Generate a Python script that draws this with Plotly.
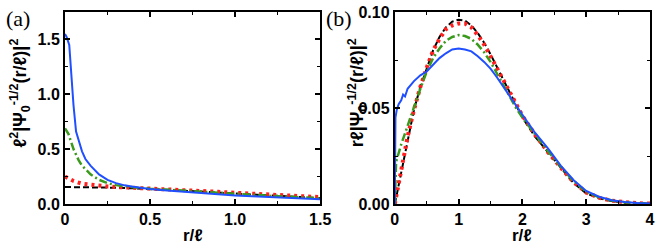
import plotly.graph_objects as go

# ---------------- Panel (a) data ----------------
ra_blue = [0, 0.01, 0.025, 0.035, 0.05, 0.065, 0.08, 0.1, 0.12, 0.15, 0.2, 0.25, 0.3, 0.35, 0.4,
           0.5, 0.6, 0.7, 0.8, 0.9, 1.0, 1.1, 1.2, 1.3, 1.4, 1.5]
a_blue = [1.55, 1.52, 1.45, 1.2, 0.9, 0.66, 0.58, 0.48, 0.41, 0.35, 0.27, 0.22, 0.19, 0.17, 0.158,
          0.136, 0.122, 0.11, 0.099, 0.088, 0.078, 0.07, 0.062, 0.055, 0.048, 0.043]

ra_green = [0, 0.02, 0.05, 0.08, 0.1, 0.15, 0.2, 0.25, 0.3, 0.35, 0.4, 0.5, 0.6, 0.7, 0.8, 0.9,
            1.0, 1.1, 1.2, 1.3, 1.4, 1.5]
a_green = [0.69, 0.64, 0.50, 0.40, 0.35, 0.27, 0.22, 0.19, 0.172, 0.162, 0.153, 0.140, 0.130, 0.120,
           0.110, 0.100, 0.091, 0.083, 0.075, 0.067, 0.060, 0.053]

ra_red = [0, 0.05, 0.1, 0.15, 0.2, 0.25, 0.3, 0.4, 0.5, 0.6, 0.7, 0.8, 0.9, 1.0, 1.1, 1.2, 1.3, 1.4, 1.5]
a_red = [0.25, 0.21, 0.185, 0.174, 0.166, 0.16, 0.155, 0.149, 0.143, 0.136, 0.128, 0.12, 0.111, 0.102,
         0.094, 0.086, 0.078, 0.070, 0.063]

ra_black = [0, 0.1, 0.2, 0.3, 0.4, 0.5, 0.6, 0.7, 0.8, 0.9, 1.0, 1.1, 1.2, 1.3, 1.4, 1.5]
a_black = [0.155, 0.154, 0.152, 0.148, 0.143, 0.137, 0.130, 0.122, 0.113, 0.104, 0.095, 0.086,
           0.077, 0.069, 0.061, 0.053]

# ---------------- Panel (b) data ----------------
rb_blue = [0, 0.005, 0.01, 0.03, 0.06, 0.1, 0.13, 0.16, 0.2,
           0.3, 0.4, 0.5, 0.6, 0.7, 0.8, 0.9, 1.0,
           1.1, 1.2, 1.3, 1.4, 1.5, 1.6, 1.7, 1.8, 1.9, 2.0,
           2.2, 2.4, 2.6, 2.8, 3.0, 3.2, 3.4, 3.6, 3.8, 4.0]
b_blue = [0, 0.035, 0.045, 0.049, 0.052, 0.054, 0.057, 0.056, 0.060,
          0.064, 0.067, 0.069, 0.0725, 0.076, 0.0785, 0.0805, 0.081,
          0.0805, 0.0795, 0.077, 0.074, 0.0705, 0.066, 0.061, 0.0565, 0.0515, 0.0465,
          0.037, 0.029, 0.020, 0.0125, 0.0068, 0.0038, 0.002, 0.001, 0.0005, 0.0002]

rb_green = [0, 0.02, 0.1, 0.2, 0.3, 0.4, 0.5, 0.6, 0.7, 0.8, 0.9, 1.0, 1.1, 1.2, 1.3, 1.4, 1.5,
            1.6, 1.7, 1.8, 1.9, 2.0, 2.2, 2.4, 2.6, 2.8, 3.0, 3.2, 3.4, 3.6, 3.8, 4.0]
b_green = [0, 0.022, 0.031, 0.041, 0.051, 0.060, 0.069, 0.076, 0.081, 0.085, 0.087, 0.088, 0.0875,
           0.086, 0.083, 0.079, 0.074, 0.068, 0.062, 0.056, 0.050, 0.045,
           0.036, 0.0275, 0.0195, 0.012, 0.0063, 0.0035, 0.0018, 0.0009, 0.0004, 0.0002]

rb_black = [0, 0.1, 0.2, 0.3, 0.4, 0.5, 0.6, 0.7, 0.8, 0.9, 1.0, 1.1, 1.2, 1.3, 1.4, 1.5,
            1.6, 1.7, 1.8, 1.9, 2.0, 2.2, 2.4, 2.6, 2.8, 3.0, 3.2, 3.4, 3.6, 3.8, 4.0]
b_black = [0, 0.017, 0.034, 0.049, 0.061, 0.071, 0.080, 0.087, 0.092, 0.095, 0.096, 0.0955, 0.093,
           0.089, 0.084, 0.078, 0.0715, 0.065, 0.058, 0.0515, 0.045,
           0.035, 0.027, 0.0185, 0.011, 0.0055, 0.003, 0.0015, 0.0007, 0.0003, 0.0001]

rb_red = rb_black
b_red = [0, 0.018, 0.035, 0.049, 0.061, 0.071, 0.080, 0.086, 0.091, 0.093, 0.094, 0.094, 0.092,
         0.088, 0.083, 0.077, 0.071, 0.065, 0.058, 0.052, 0.046,
         0.036, 0.027, 0.019, 0.0115, 0.006, 0.0033, 0.0017, 0.0008, 0.0004, 0.0002]

xa_ticks = [0, 0.5, 1.0, 1.5]
xa_text = ["0", "0.5", "1.0", "1.5"]
ya_ticks = [0, 0.5, 1.0, 1.5]
ya_text = ["0.0", "0.5", "1.0", "1.5"]
xb_ticks = [0, 1, 2, 3, 4]
xb_text = ["0", "1", "2", "3", "4"]
yb_ticks = [0, 0.05, 0.10]
yb_text = ["0.00", "0.05", "0.10"]

BLUE = "#1f4fff"
GREEN = "#3a9a1c"
RED = "#ff1f1f"
BLACK = "#000000"

fig = go.Figure()

def add(x, y, color, dash, width, xa, ya):
    fig.add_trace(go.Scatter(x=x, y=y, mode="lines", xaxis=xa, yaxis=ya,
                             line=dict(color=color, dash=dash, width=width),
                             showlegend=False, hoverinfo="skip"))

# panel a (draw order: black, red, green, blue)
add(ra_black, a_black, BLACK, "6px,3px", 2, "x", "y")
add(ra_red, a_red, RED, "3px,4px", 4, "x", "y")
add(ra_green, a_green, GREEN, "8px,3px,2px,3px", 2.5, "x", "y")
add(ra_blue, a_blue, BLUE, "solid", 2, "x", "y")
# panel b
add(rb_black, b_black, BLACK, "6px,3px", 2, "x2", "y2")
add(rb_red, b_red, RED, "3px,4px", 4, "x2", "y2")
add(rb_green, b_green, GREEN, "8px,3px,2px,3px", 2.5, "x2", "y2")
add(rb_blue, b_blue, BLUE, "solid", 2, "x2", "y2")

tickfont = dict(family="Liberation Sans, Arial, sans-serif", size=16, color="black", weight="bold")

def axis(rng, tv, tt, minor_dtick, domain=None, anchor=None):
    d = dict(range=rng, tickvals=tv, ticktext=tt, ticks="inside", ticklen=5, tickwidth=1.5,
             tickcolor="black", showline=True, linecolor="black", linewidth=2, mirror="ticks",
             showgrid=False, zeroline=False, tickfont=tickfont, fixedrange=True,
             minor=dict(dtick=minor_dtick, tick0=0, ticks="inside", ticklen=3, tickwidth=1.2,
                        tickcolor="black", showgrid=False))
    if domain is not None:
        d["domain"] = domain
    if anchor is not None:
        d["anchor"] = anchor
    return d

fig.update_layout(
    width=665, height=242,
    margin=dict(l=65, r=4, t=12, b=38),
    paper_bgcolor="white", plot_bgcolor="white",
    xaxis=axis([0, 1.5], xa_ticks, xa_text, 0.25, domain=[0, 0.4362], anchor="y"),
    yaxis=axis([0, 1.75], ya_ticks, ya_text, 0.25, anchor="x"),
    xaxis2=axis([0, 4], xb_ticks, xb_text, 0.5, domain=[0.5638, 1], anchor="y2"),
    yaxis2=axis([0, 0.10], yb_ticks, yb_text, 0.025, anchor="x2"),
)

labfont = dict(family="Liberation Serif, Times New Roman, serif", size=22, color="black")
titfont = dict(family="Liberation Sans, Arial, sans-serif", size=18, color="black", weight="bold")
xtitfont = dict(family="Liberation Sans, Arial, sans-serif", size=17, color="black", weight="bold")

ann = [
    dict(text="(a)", x=-0.104, y=1.04, xanchor="left", yanchor="top", font=labfont),
    dict(text="(b)", x=0.443, y=1.04, xanchor="left", yanchor="top", font=labfont),
    dict(text="ℓ<sup>2</sup>|Ψ<sub>0</sub><sup>-1/2</sup>(r/ℓ)|<sup>2</sup>", x=-0.077, y=0.58,
         xanchor="center", yanchor="middle", textangle=-90, font=titfont),
    dict(text="rℓ|Ψ<sub>0</sub><sup>-1/2</sup>(r/ℓ)|<sup>2</sup>", x=0.50, y=0.58,
         xanchor="center", yanchor="middle", textangle=-90, font=titfont),
    dict(text="r/ℓ", x=0.218, y=-0.165, xanchor="center", yanchor="middle", font=xtitfont),
    dict(text="r/ℓ", x=0.782, y=-0.165, xanchor="center", yanchor="middle", font=xtitfont),
]
for a in ann:
    a.update(xref="paper", yref="paper", showarrow=False)
fig.update_layout(annotations=ann)

fig.write_html("out.html",
               config={"displayModeBar": False},
               post_script="document.body.style.margin='0';document.body.style.padding='0';"
                           "document.documentElement.style.overflow='hidden';")
